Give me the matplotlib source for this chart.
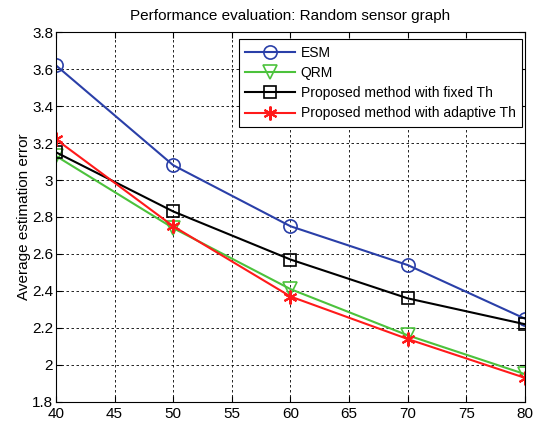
import matplotlib
matplotlib.use("Agg")
import matplotlib.pyplot as plt
from matplotlib.ticker import FuncFormatter

plt.rcParams['font.family'] = ['Liberation Sans', 'DejaVu Sans']

x = [40, 50, 60, 70, 80]
esm = [3.62, 3.08, 2.75, 2.54, 2.25]
qrm = [3.13, 2.74, 2.41, 2.16, 1.95]
fixed_th = [3.15, 2.83, 2.57, 2.36, 2.22]
adaptive_th = [3.22, 2.75, 2.37, 2.14, 1.93]
labels = ["ESM", "QRM", "Proposed method with fixed Th", "Proposed method with adaptive Th"]
xticks = [40, 45, 50, 55, 60, 65, 70, 75, 80]
yticks = [1.8, 2.0, 2.2, 2.4, 2.6, 2.8, 3.0, 3.2, 3.4, 3.6, 3.8]

fig = plt.figure(figsize=(5.33, 4.28), dpi=100)
ax = fig.add_axes([0.105, 0.061, 0.880, 0.864])

ax.plot(x, esm, color='#2a3fa8', lw=1.5, marker='o', ms=9.5, mfc='none', mew=1.2, label=labels[0])
ax.plot(x, qrm, color='#4cc23c', lw=1.5, marker='v', ms=9.5, mfc='none', mew=1.2, label=labels[1])
ax.plot(x, fixed_th, color='black', lw=1.5, marker='s', ms=9, mfc='none', mew=1.2, label=labels[2])
ax.plot(x, adaptive_th, color='#ff1a1a', lw=1.5, marker=(6, 2, 0), ms=10, mew=1.5, label=labels[3])

ax.set_xlim(40, 80)
ax.set_ylim(1.8, 3.8)
ax.set_xticks(xticks)
ax.set_yticks(yticks)
ax.yaxis.set_major_formatter(FuncFormatter(lambda v, p: f"{v:g}"))
ax.tick_params(direction='in', top=True, right=True, labelsize=11, length=4, pad=2)
ax.tick_params(axis='x', pad=3.5)
ax.grid(True, color='black', linestyle=(0, (3, 3)), linewidth=0.6)
for s in ax.spines.values():
    s.set_linewidth(0.8)

ax.set_title("Performance evaluation: Random sensor graph", fontsize=11, pad=9)
ax.set_ylabel("Average estimation error", fontsize=11, labelpad=1)

leg = ax.legend(loc='upper right', fontsize=10, frameon=True, fancybox=False,
                edgecolor='black', framealpha=1, borderpad=0.45, handlelength=3.6,
                handletextpad=0.4, labelspacing=0.45, borderaxespad=0,
                bbox_to_anchor=(0.993, 0.98))
leg.get_frame().set_linewidth(0.8)

fig.savefig("out.png", dpi=100)
